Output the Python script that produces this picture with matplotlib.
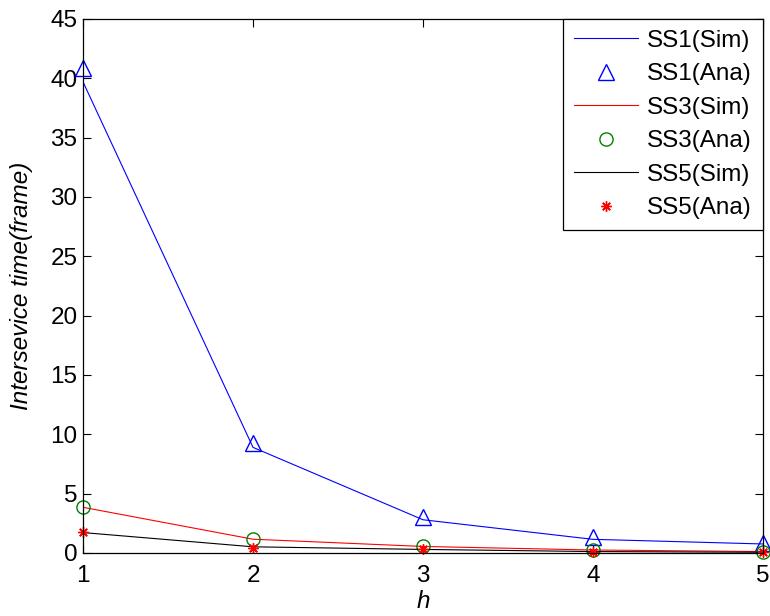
import matplotlib
matplotlib.use("Agg")
import matplotlib.pyplot as plt

plt.rcParams['font.family'] = ['Liberation Sans', 'DejaVu Sans']

h = [1, 2, 3, 4, 5]
ss1_sim = [39.7, 8.9, 2.8, 1.15, 0.76]
ss1_ana = [40.9, 9.3, 3.0, 1.35, 0.87]
ss3_sim = [3.85, 1.16, 0.55, 0.25, 0.12]
ss3_ana = [3.9, 1.22, 0.55, 0.25, 0.12]
ss5_sim = [1.72, 0.52, 0.3, 0.12, 0.06]
ss5_ana = [1.74, 0.45, 0.3, 0.1, 0.05]

xticks = [1, 2, 3, 4, 5]
yticks = [0, 5, 10, 15, 20, 25, 30, 35, 40, 45]

fig = plt.figure(figsize=(7.7, 6.16), dpi=100)
ax = fig.add_axes([0.1078, 0.1023, 0.8831, 0.8669])

lw = 0.8
ax.plot(h, ss1_sim, color='blue', lw=lw, label='SS1(Sim)')
ax.plot(h, ss1_ana, ls='none', marker='^', ms=11, mfc='none', mec='blue',
        mew=1.0, label='SS1(Ana)', clip_on=False)
ax.plot(h, ss3_sim, color='red', lw=lw, label='SS3(Sim)')
ax.plot(h, ss3_ana, ls='none', marker='o', ms=9.5, mfc='none', mec='green',
        mew=1.0, label='SS3(Ana)', clip_on=False)
ax.plot(h, ss5_sim, color='black', lw=lw, label='SS5(Sim)')
ax.plot(h, ss5_ana, ls='none', marker=(8, 2, 0), ms=7.5, color='red',
        mew=1.0, label='SS5(Ana)', clip_on=False)

ax.set_xlim(1, 5)
ax.set_ylim(0, 45)
ax.set_xticks(xticks)
ax.set_yticks(yticks)
ax.tick_params(direction='in', length=6, width=0.8, labelsize=17.5,
               top=True, right=True)
ax.tick_params(axis='y', pad=4)
ax.tick_params(axis='x', pad=9)
for s in ax.spines.values():
    s.set_linewidth(0.9)

ax.set_xlabel('h', fontsize=17.5, style='italic')
ax.xaxis.set_label_coords(0.5, -0.069)
ax.set_ylabel('Intersevice time(frame)', fontsize=17.5, style='italic')
ax.yaxis.set_label_coords(-0.0735, 0.5)

leg = ax.legend(loc='upper right', fontsize=17.5, frameon=True, fancybox=False,
                edgecolor='black', framealpha=1, handlelength=2.6,
                borderaxespad=0.0, labelspacing=0.47, borderpad=0.45,
                handletextpad=0.4)
leg.get_frame().set_linewidth(0.9)

fig.savefig('out.png', dpi=100)
